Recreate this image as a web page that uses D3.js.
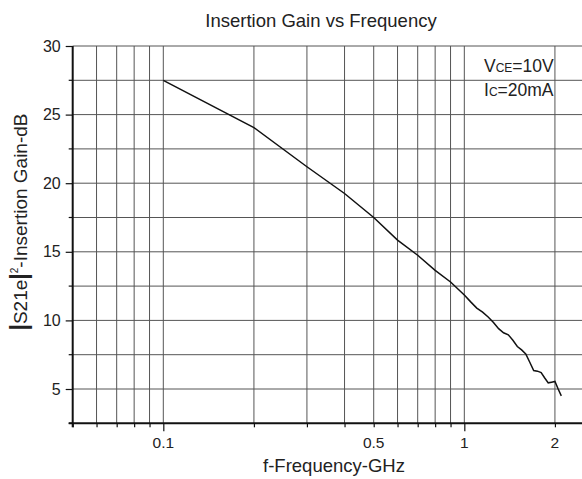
<!DOCTYPE html>
<html><head><meta charset="utf-8">
<script src="https://cdn.jsdelivr.net/npm/d3@7"></script>
<style>body{margin:0;background:#fff}svg{display:block}text{font-family:"Liberation Sans",Arial,sans-serif;fill:#222}</style>
</head><body>
<script>
const title = "Insertion Gain vs Frequency";
const xLabel = "f-Frequency-GHz";
const freq = [0.1,0.2,0.3,0.4,0.5,0.6,0.7,0.8,0.9,1.0,1.05,1.1,1.15,1.2,1.25,1.3,1.35,1.4,1.45,1.5,1.55,1.6,1.65,1.7,1.75,1.8,1.85,1.9,1.95,2.0,2.05,2.1];
const gain = [27.5,24.05,21.2,19.25,17.5,15.85,14.75,13.65,12.8,11.85,11.35,10.9,10.6,10.25,9.85,9.4,9.1,8.95,8.55,8.1,7.85,7.55,6.95,6.35,6.3,6.2,5.8,5.45,5.5,5.55,5.0,4.5];
const xTickLabels = [0.1,0.5,1,2];
const xGrid = [0.06,0.07,0.08,0.09,0.1,0.2,0.3,0.4,0.5,0.6,0.7,0.8,0.9,1,2];
const yTicks = [5,10,15,20,25,30];
const yMinor = [2.5,7.5,12.5,17.5,22.5,27.5];

const W=582,H=479;
const svg=d3.select("body").append("svg").attr("width",W).attr("height",H);
const x=d3.scaleLog().domain([0.05,2.5]).range([72.7,584.1]);
const y=d3.scaleLinear().domain([2.5,30]).range([423.3,46]);

// gridlines
const g=svg.append("g");
g.selectAll("line.vx").data(xGrid).join("line")
 .attr("x1",d=>x(d)).attr("x2",d=>x(d)).attr("y1",y(30)).attr("y2",y(2.5))
 .attr("stroke","#555").attr("stroke-width",1);
g.selectAll("line.hy").data(yTicks.concat(yMinor.filter(d=>d>2.5))).join("line")
 .attr("y1",d=>y(d)).attr("y2",d=>y(d)).attr("x1",x(0.05)).attr("x2",W)
 .attr("stroke","#555").attr("stroke-width",1);

// x axis
const xAxis=svg.append("g").attr("transform",`translate(0,${y(2.5)})`)
 .call(d3.axisBottom(x).tickValues(xGrid.concat([0.05])).tickSize(4).tickFormat(""));
xAxis.select(".domain").attr("stroke","#111").attr("stroke-width",2).attr("d",`M${x(0.05)-4},0H${W}`);
xAxis.selectAll(".tick line").attr("stroke","#111").attr("stroke-width",1.2)
 .attr("y2",d=>(d===0.1||d===1)?8:4);
svg.append("g").selectAll("text").data(xTickLabels).join("text")
 .attr("x",d=>x(d)).attr("y",448).attr("text-anchor","middle").attr("font-size",15.5).text(d=>d);

// y axis
const yAxis=svg.append("g").attr("transform",`translate(${x(0.05)},0)`)
 .call(d3.axisLeft(y).tickValues(yTicks).tickSize(7).tickPadding(5).tickFormat(d=>d));
yAxis.select(".domain").attr("stroke","#111").attr("stroke-width",2).attr("d",`M0,${y(30)}V${y(2.5)+4}`);
yAxis.selectAll(".tick line").attr("stroke","#111").attr("stroke-width",1.2);
yAxis.selectAll(".tick text").attr("font-size",16).attr("font-family","Liberation Sans, Arial, sans-serif").attr("fill","#222");
svg.append("g").selectAll("line").data(yMinor).join("line")
 .attr("x1",x(0.05)-4).attr("x2",x(0.05)).attr("y1",d=>y(d)).attr("y2",d=>y(d))
 .attr("stroke","#111").attr("stroke-width",1.2);

// curve
const pts=freq.map((f,i)=>[f,gain[i]]);
svg.append("path").datum(pts)
 .attr("d",d3.line().x(d=>x(d[0])).y(d=>y(d[1])))
 .attr("fill","none").attr("stroke","#111").attr("stroke-width",1.5);

// title & labels
svg.append("text").attr("x",321).attr("y",27).attr("text-anchor","middle").attr("font-size",18.5).text(title);
svg.append("text").attr("x",334).attr("y",472).attr("text-anchor","middle").attr("font-size",18.5).text(xLabel);
const yl=svg.append("text").attr("transform","translate(27,222) rotate(-90)").attr("text-anchor","middle").attr("font-size",19);
yl.append("tspan").attr("font-size",23).attr("font-weight","bold").text("|");
yl.append("tspan").text("S21e");
yl.append("tspan").attr("font-size",23).attr("font-weight","bold").text("|");
yl.append("tspan").attr("font-size",10).attr("dy",-9).text("2");
yl.append("tspan").attr("dy",9).text("-Insertion Gain-dB");

// annotation
const a1=svg.append("text").attr("x",484).attr("y",72).attr("font-size",17.5);
a1.append("tspan").text("V");
a1.append("tspan").attr("font-size",12).text("CE");
a1.append("tspan").text("=10V");
const a2=svg.append("text").attr("x",484).attr("y",95.5).attr("font-size",17.5);
a2.append("tspan").text("I");
a2.append("tspan").attr("font-size",12).text("C");
a2.append("tspan").text("=20mA");
</script>
</body></html>
